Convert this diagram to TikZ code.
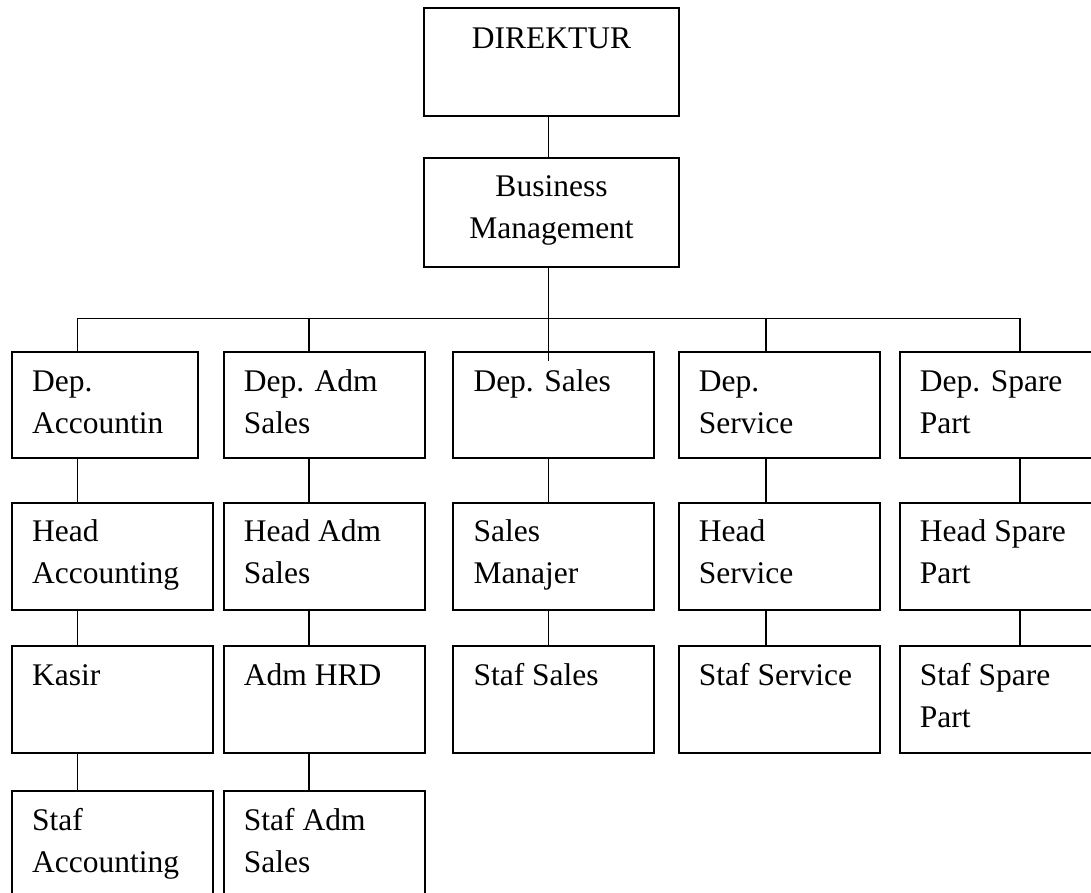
\documentclass[tikz,border=0pt]{standalone}
\usepackage{fontspec}
\setmainfont{Liberation Serif}
\usetikzlibrary{calc}
\newcommand{\lefttext}[1]{\begin{tabular}[t]{@{}l@{}}#1\end{tabular}}
\newcommand{\centertext}[1]{\begin{tabular}[t]{@{}c@{}}#1\end{tabular}}
\tikzset{
  orgbox/.style={draw=black, line width=2pt, anchor=north west, inner sep=0pt},
  lbl/.style={anchor=base west, inner sep=0pt, font=\fontsize{31.5pt}{42pt}\selectfont},
  clbl/.style={anchor=base, inner sep=0pt, font=\fontsize{31.5pt}{42pt}\selectfont},
  conn/.style={draw=black, line width=1.6pt}
}
\begin{document}
\begin{tikzpicture}[x=1pt, y=-1pt]
\useasboundingbox (0,0) rectangle (1091,892);
\clip (0,0) rectangle (1091,892);

% top boxes
\node[orgbox, minimum width=255.6pt, minimum height=107.7pt] (dir) at (422.7,7.3) {};
\node[clbl] (dirt) at ($(dir.north)+(0,41)$) {\centertext{DIREKTUR}};
\node[orgbox, minimum width=255pt, minimum height=109.3pt] (bm) at (423,156.7) {};
\node[clbl] (bmt) at ($(bm.north)+(0,40)$) {\centertext{Business\\Management}};

% column 1
\node[orgbox, minimum width=186pt, minimum height=106.7pt] (d1) at (11,350.7) {};
\node[orgbox, minimum width=200.7pt, minimum height=107.6pt] (h1) at (11,501.7) {};
\node[orgbox, minimum width=200.7pt, minimum height=107.3pt] (k1) at (11,645) {};
\node[orgbox, minimum width=200.7pt, minimum height=107pt] (s1) at (11,790) {};
% column 2
\node[orgbox, minimum width=201pt, minimum height=106.7pt] (d2) at (222.7,350.7) {};
\node[orgbox, minimum width=201pt, minimum height=107.6pt] (h2) at (222.7,501.7) {};
\node[orgbox, minimum width=201pt, minimum height=107.3pt] (a2) at (222.7,645) {};
\node[orgbox, minimum width=201pt, minimum height=107pt] (s2) at (222.7,790) {};
% column 3
\node[orgbox, minimum width=201pt, minimum height=106.7pt] (d3) at (452.3,350.7) {};
\node[orgbox, minimum width=201pt, minimum height=107.6pt] (h3) at (452.3,501.7) {};
\node[orgbox, minimum width=201pt, minimum height=107.3pt] (s3) at (452.3,645) {};
% column 4
\node[orgbox, minimum width=201.3pt, minimum height=106.7pt] (d4) at (677.7,350.7) {};
\node[orgbox, minimum width=201.3pt, minimum height=107.6pt] (h4) at (677.7,501.7) {};
\node[orgbox, minimum width=201.3pt, minimum height=107.3pt] (s4) at (677.7,645) {};
% column 5
\node[orgbox, minimum width=201pt, minimum height=106.7pt] (d5) at (898.7,350.7) {};
\node[orgbox, minimum width=201pt, minimum height=107.6pt] (h5) at (898.7,501.7) {};
\node[orgbox, minimum width=201pt, minimum height=107.3pt] (s5) at (898.7,645) {};

% texts
\node[lbl] (d1t) at ($(d1.north west)+(21,41)$) {\lefttext{Dep.\\Accountin}};
\node[lbl] (h1t) at ($(h1.north west)+(21,40)$) {\lefttext{Head\\Accounting}};
\node[lbl] (k1t) at ($(k1.north west)+(21,40)$) {\lefttext{Kasir}};
\node[lbl] (s1t) at ($(s1.north west)+(21,40)$) {\lefttext{Staf\\Accounting}};
\node[lbl] (d2t) at ($(d2.north west)+(21,41)$) {\lefttext{Dep. Adm\\Sales}};
\node[lbl] (h2t) at ($(h2.north west)+(21,40)$) {\lefttext{Head Adm\\Sales}};
\node[lbl] (a2t) at ($(a2.north west)+(21,40)$) {\lefttext{Adm HRD}};
\node[lbl] (s2t) at ($(s2.north west)+(21,40)$) {\lefttext{Staf Adm\\Sales}};
\node[lbl] (d3t) at ($(d3.north west)+(21,41)$) {\lefttext{Dep. Sales}};
\node[lbl] (h3t) at ($(h3.north west)+(21,40)$) {\lefttext{Sales\\Manajer}};
\node[lbl] (s3t) at ($(s3.north west)+(21,40)$) {\lefttext{Staf Sales}};
\node[lbl] (d4t) at ($(d4.north west)+(21,41)$) {\lefttext{Dep.\\Service}};
\node[lbl] (h4t) at ($(h4.north west)+(21,40)$) {\lefttext{Head\\Service}};
\node[lbl] (s4t) at ($(s4.north west)+(21,40)$) {\lefttext{Staf Service}};
\node[lbl] (d5t) at ($(d5.north west)+(21,41)$) {\lefttext{Dep. Spare\\Part}};
\node[lbl] (h5t) at ($(h5.north west)+(21,40)$) {\lefttext{Head Spare\\Part}};
\node[lbl] (s5t) at ($(s5.north west)+(21,40)$) {\lefttext{Staf Spare\\Part}};

% connector coordinates
\coordinate (x1) at (77.3,318.3);
\coordinate (x2) at (308.7,318.3);
\coordinate (x3) at (548.5,318.3);
\coordinate (x4) at (765.7,318.3);
\coordinate (x5) at (1020,318.3);
\coordinate (x3end) at (548.5,361);

% connectors
\draw[conn] (dir.south -| x3) -- (bm.north -| x3);
\draw[conn] (bm.south -| x3) -- (x3end);
\draw[conn] (x1) -- (x5);
\draw[conn] (x1) -- (x1 |- d1.north);
\draw[conn] (x2) -- (x2 |- d2.north);
\draw[conn] (x4) -- (x4 |- d4.north);
\draw[conn] (x5) -- (x5 |- d5.north);

\draw[conn] (x1 |- d1.south) -- (x1 |- h1.north);
\draw[conn] (x1 |- h1.south) -- (x1 |- k1.north);
\draw[conn] (x1 |- k1.south) -- (x1 |- s1.north);
\draw[conn] (x2 |- d2.south) -- (x2 |- h2.north);
\draw[conn] (x2 |- h2.south) -- (x2 |- a2.north);
\draw[conn] (x2 |- a2.south) -- (x2 |- s2.north);
\draw[conn] (x3 |- d3.south) -- (x3 |- h3.north);
\draw[conn] (x3 |- h3.south) -- (x3 |- s3.north);
\draw[conn] (x4 |- d4.south) -- (x4 |- h4.north);
\draw[conn] (x4 |- h4.south) -- (x4 |- s4.north);
\draw[conn] (x5 |- d5.south) -- (x5 |- h5.north);
\draw[conn] (x5 |- h5.south) -- (x5 |- s5.north);
\end{tikzpicture}
\end{document}
